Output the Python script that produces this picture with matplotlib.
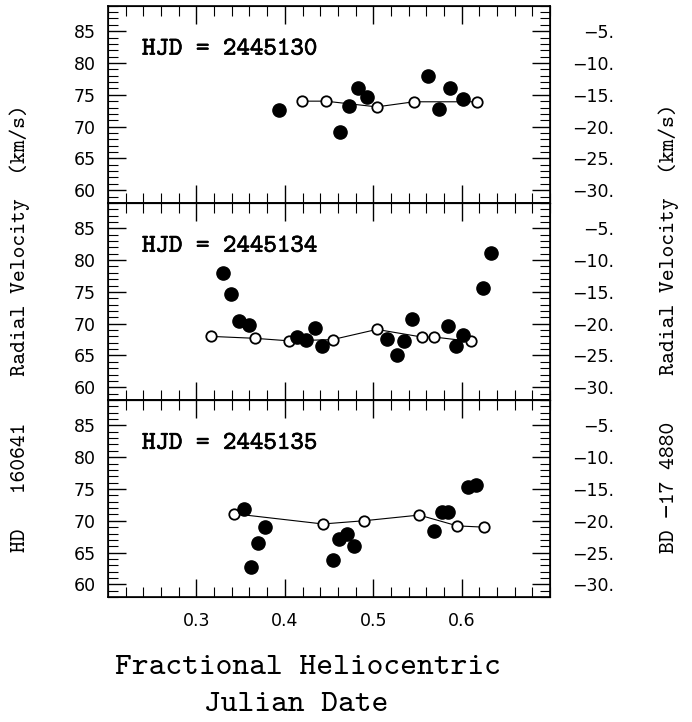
import numpy as np
import matplotlib.pyplot as plt
import matplotlib.patheffects as pe
from matplotlib.ticker import MultipleLocator, FixedLocator, FuncFormatter

# HJD = 2445130
x_fill_1 = [0.393, 0.462, 0.473, 0.483, 0.493, 0.562, 0.574, 0.587, 0.602]
y_fill_1 = [72.6, 69.1, 73.3, 76.0, 74.6, 77.9, 72.8, 76.0, 74.4]
x_open_1 = [0.419, 0.446, 0.504, 0.546, 0.617]
y_open_1 = [74.0, 74.0, 73.1, 73.9, 73.9]

# HJD = 2445134
x_fill_2 = [0.330, 0.339, 0.348, 0.359, 0.414, 0.424, 0.434, 0.442, 0.516,
            0.527, 0.535, 0.544, 0.585, 0.594, 0.602, 0.624, 0.633]
y_fill_2 = [77.9, 74.6, 70.4, 69.8, 67.9, 67.5, 69.4, 66.5, 67.6,
            65.1, 67.3, 70.7, 69.7, 66.5, 68.2, 75.6, 81.1]
x_open_2 = [0.317, 0.366, 0.405, 0.454, 0.504, 0.555, 0.569, 0.611]
y_open_2 = [68.0, 67.7, 67.3, 67.5, 69.1, 67.9, 67.9, 67.2]

# HJD = 2445135
x_fill_3 = [0.354, 0.362, 0.370, 0.378, 0.455, 0.461, 0.470, 0.478, 0.569,
            0.578, 0.585, 0.607, 0.616]
y_fill_3 = [71.8, 62.7, 66.5, 69.1, 63.8, 67.1, 67.9, 66.1, 68.4,
            71.4, 71.4, 75.3, 75.7]
x_open_3 = [0.343, 0.443, 0.489, 0.552, 0.595, 0.625]
y_open_3 = [71.1, 69.5, 70.0, 70.9, 69.2, 69.0]

labels = ["HJD = 2445130", "HJD = 2445134", "HJD = 2445135"]
panels = [(x_fill_1, y_fill_1, x_open_1, y_open_1),
          (x_fill_2, y_fill_2, x_open_2, y_open_2),
          (x_fill_3, y_fill_3, x_open_3, y_open_3)]
offset = 90  # HD 160641 minus BD -17 4880
ylo, yhi = 58, 89

tt = ["cmtt10", "DejaVu Sans Mono"]
sans = "DejaVu Sans"

fig = plt.figure(figsize=(6.92, 7.22), dpi=100)
axs = fig.subplots(3, 1, sharex=True, gridspec_kw=dict(hspace=0))
fig.subplots_adjust(left=0.156, right=0.795, bottom=0.173, top=0.992)

for ax, lab, (xf, yf, xo, yo) in zip(axs, labels, panels):
    ax.plot(xo, yo, "-", color="black", lw=0.8, zorder=2)
    ax.plot(xo, yo, "o", mfc="white", mec="black", ms=7.5, mew=1.3, zorder=3)
    ax.plot(xf, yf, "o", color="black", ms=9.5, zorder=4)
    ax.set_xlim(0.2, 0.7)
    ax.set_ylim(ylo, yhi)
    ax.xaxis.set_major_locator(FixedLocator([0.3, 0.4, 0.5, 0.6]))
    ax.xaxis.set_minor_locator(MultipleLocator(0.02))
    ax.yaxis.set_major_locator(MultipleLocator(5))
    ax.yaxis.set_minor_locator(MultipleLocator(1))
    ax.tick_params(which="both", direction="in", top=True, bottom=True,
                   left=True, right=False)
    ax.tick_params(which="major", length=13, width=1.0)
    ax.tick_params(which="minor", length=7, width=0.8)
    ax.tick_params(axis="y", pad=9, labelsize=12.5)
    ax.tick_params(axis="x", pad=11, labelsize=12.5)
    for s in ax.spines.values():
        s.set_linewidth(1.2)
    for t in ax.get_yticklabels() + ax.get_xticklabels():
        t.set_family(sans)
    ax.text(0.077, 0.775, lab, transform=ax.transAxes, ha="left", va="center",
            fontsize=18.5, family=tt,
            path_effects=[pe.withStroke(linewidth=0.45, foreground="black")])

    tw = ax.twinx()
    tw.set_ylim(ylo - offset, yhi - offset)
    tw.yaxis.set_major_locator(MultipleLocator(5))
    tw.yaxis.set_minor_locator(MultipleLocator(1))
    tw.yaxis.set_major_formatter(
        FuncFormatter(lambda v, p: f"{v:.0f}.".replace("-", "\u2212")))
    tw.tick_params(which="both", direction="in")
    tw.tick_params(which="major", length=13, width=1.0, pad=46, labelsize=12.5)
    tw.tick_params(which="minor", length=7, width=0.8)
    for t in tw.get_yticklabels():
        t.set_family(sans)
        t.set_horizontalalignment("right")

for ax in axs[:2]:
    ax.tick_params(labelbottom=False)

fig.text(0.029, 0.546, "HD   160641    Radial Velocity  (km/s)", rotation=90,
         ha="center", va="center", fontsize=16.2, family=tt)
fig.text(0.966, 0.546, "BD \u221217 4880    Radial Velocity  (km/s)",
         rotation=90, ha="center", va="center", fontsize=16.2, family=tt)
fig.text(0.445, 0.075, "Fractional Heliocentric", ha="center", va="center",
         fontsize=23, family=tt)
fig.text(0.428, 0.024, "Julian Date", ha="center", va="center",
         fontsize=23, family=tt)

fig.savefig("out.png", dpi=100)
